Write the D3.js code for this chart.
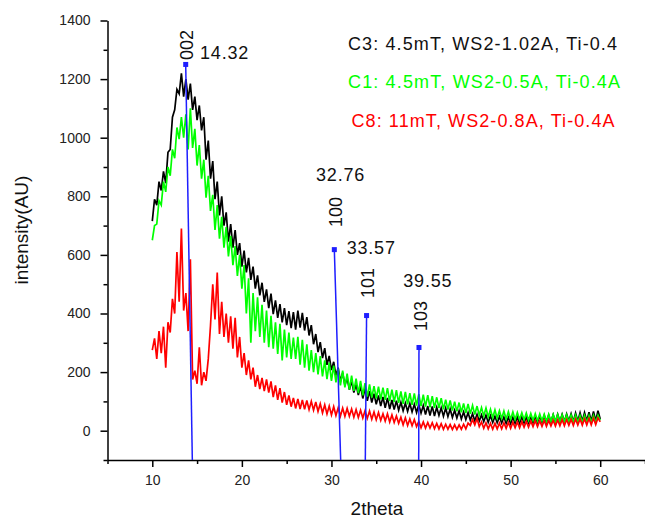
<!DOCTYPE html>
<html>
<head>
<meta charset="utf-8">
<script src="https://cdn.jsdelivr.net/npm/d3@7.9.0/dist/d3.min.js"></script>
<style>
  html, body { margin: 0; padding: 0; background: #fff; }
  svg { display: block; font-family: "Liberation Sans", Arial, sans-serif; }
</style>
</head>
<body>
<svg id="chart" width="645" height="519"></svg>
<script>
// 2theta grid: 10 .. 60 every 0.25 deg (201 points)
const twoTheta = d3.range(201).map(i => 10 + i / 4);

// C3: 4.5mT, WS2-1.02A, Ti-0.4  (black)
const c3Values = [
  715, 790, 770, 850, 820, 885, 845, 950,
  960, 1070, 1095, 1165, 1150, 1220, 1140, 1200,
  1130, 1185, 1095, 1140, 1060, 1110, 1025, 1070,
  925, 990, 860, 920, 790, 850, 735, 800,
  700, 745, 645, 705, 625, 685, 600, 640,
  560, 615, 540, 590, 515, 560, 485, 530,
  462, 505, 440, 482, 418, 468, 398, 445,
  385, 432, 370, 418, 360, 408, 350, 405,
  345, 410, 352, 402, 342, 388, 325, 360,
  295, 330, 268, 302, 248, 282, 225, 255,
  207, 235, 188, 215, 168, 198, 155, 180,
  140, 170, 130, 158, 122, 152, 110, 145,
  102, 135, 96, 126, 90, 120, 84, 115,
  78, 112, 74, 105, 72, 102, 70, 97,
  68, 94, 66, 93, 64, 90, 62, 89,
  60, 86, 55, 84, 52, 83, 50, 80,
  52, 78, 49, 77, 48, 74, 45, 70,
  43, 68, 40, 64, 38, 62, 36, 58,
  34, 56, 33, 54, 31, 53, 29, 51,
  28, 49, 27, 48, 26, 47, 25, 46,
  24, 46, 25, 47, 25, 47, 26, 46,
  26, 47, 27, 48, 28, 50, 29, 52,
  28, 53, 30, 55, 30, 56, 31, 56,
  31, 57, 32, 58, 31, 60, 32, 61,
  32, 62, 33, 63, 32, 66, 33, 68,
  40
];

// C1: 4.5mT, WS2-0.5A, Ti-0.4A  (green)
const c1Values = [
  650, 700, 705, 785, 770, 850, 815, 900,
  870, 960, 930, 1035, 995, 1070, 1000, 1080,
  960, 1100, 965, 1030, 905, 975, 860, 925,
  795, 870, 750, 805, 685, 770, 655, 730,
  625, 695, 595, 665, 565, 630, 528, 600,
  485, 565, 400, 520, 300, 470, 340, 455,
  320, 430, 300, 410, 285, 392, 280, 370,
  262, 365, 240, 345, 250, 335, 245, 318,
  245, 320, 225, 310, 215, 295, 205, 275,
  200, 265, 192, 255, 185, 240, 176, 232,
  170, 222, 165, 212, 155, 205, 148, 195,
  140, 188, 136, 178, 128, 170, 121, 162,
  116, 158, 113, 152, 110, 150, 107, 147,
  105, 145, 101, 140, 98, 138, 95, 134,
  92, 132, 90, 128, 88, 127, 86, 125,
  84, 123, 82, 121, 80, 118, 78, 114,
  77, 111, 73, 106, 72, 103, 69, 99,
  66, 96, 63, 93, 60, 91, 58, 86,
  55, 84, 53, 79, 50, 77, 47, 73,
  44, 71, 43, 68, 42, 67, 40, 65,
  39, 64, 38, 62, 38, 61, 37, 60,
  36, 59, 35, 58, 34, 57, 33, 56,
  32, 56, 31, 55, 31, 55, 30, 54,
  30, 54, 29, 53, 29, 53, 28, 52,
  28, 52, 28, 52, 28, 52, 28, 52,
  35
];

// C8: 11mT, WS2-0.8A, Ti-0.4A  (red)
const c8Values = [
  275, 315, 245, 340, 265, 355, 215, 370,
  335, 450, 400, 610, 440, 690, 410, 470,
  340, 585, 175, 205, 160, 285, 155, 200,
  170, 245, 360, 500, 380, 540, 330, 440,
  320, 400, 300, 390, 280, 385, 250, 320,
  215, 265, 190, 240, 175, 215, 150, 190,
  142, 180, 135, 175, 130, 168, 115, 155,
  105, 145, 96, 132, 88, 120, 82, 112,
  76, 108, 74, 105, 73, 103, 72, 100,
  70, 98, 66, 92, 61, 88, 57, 84,
  54, 82, 52, 78, 50, 77, 49, 76,
  49, 74, 46, 72, 45, 70, 43, 68,
  42, 67, 39, 64, 37, 62, 35, 58,
  33, 58, 30, 54, 28, 50, 25, 46,
  20, 44, 18, 40, 17, 38, 14, 32,
  10, 30, 9, 28, 9, 27, 7, 25,
  6, 24, 5, 22, 5, 21, 4, 20,
  4, 20, 5, 22, 6, 26, 18, 38,
  20, 42, 14, 30, 8, 27, 6, 25,
  5, 25, 6, 26, 6, 27, 8, 28,
  8, 29, 10, 30, 10, 31, 12, 32,
  12, 33, 14, 34, 14, 34, 15, 35,
  15, 35, 16, 36, 16, 37, 17, 38,
  17, 38, 18, 39, 18, 40, 19, 40,
  19, 41, 20, 42, 20, 43, 21, 44,
  30
];

const seriesNames = [
  'C3: 4.5mT, WS2-1.02A, Ti-0.4',
  'C1: 4.5mT, WS2-0.5A, Ti-0.4A',
  'C8: 11mT, WS2-0.8A, Ti-0.4A'
];
const seriesColors = ['#000000', '#00ff00', '#ff0000'];

// reference peaks (drop lines)
const peakHkl = ['002', '100', '101', '103'];
const peakAngle = ['14.32', '32.76', '33.57', '39.55'];
const peakTopX = [13.73, 30.32, 33.92, 39.77];
const peakBaseX = [14.47, 31.03, 33.78, 39.74];
const peakTopY = [1250, 618, 393, 284];
// where the hkl / angle texts sit, in data units
const hklAt = [[13.82, 1265], [30.45, 695], [34.02, 453], [39.94, 340]];
const angleAt = [[15.33, 1268], [28.28, 852], [31.70, 603], [38.02, 491]];

const xMajor = [10, 20, 30, 40, 50, 60];
const xMinor = [5, 15, 25, 35, 45, 55, 65];
const yMajor = [0, 200, 400, 600, 800, 1000, 1200, 1400];
const yMinor = [-100, 100, 300, 500, 700, 900, 1100, 1300];

const svg = d3.select('#chart');

const x = d3.scaleLinear().domain([5, 65]).range([107.5, 645]);
const y = d3.scaleLinear().domain([-100, 1400]).range([460, 20.5]);

// axes
const yAxisG = svg.append('g').attr('transform', `translate(${x(5)},0)`);
yAxisG.call(d3.axisLeft(y).tickValues(yMinor).tickSize(4).tickSizeOuter(0).tickFormat(''));
yAxisG.append('g')
  .call(d3.axisLeft(y).tickValues(yMajor).tickSize(7).tickSizeOuter(0).tickPadding(10).tickFormat(d3.format('d')))
  .call(g => g.select('.domain').remove());

const xAxisG = svg.append('g').attr('transform', `translate(0,${y(-100)})`);
xAxisG.call(d3.axisBottom(x).tickValues(xMinor).tickSize(4).tickSizeOuter(0).tickFormat(''));
xAxisG.append('g')
  .call(d3.axisBottom(x).tickValues(xMajor).tickSize(7).tickSizeOuter(0).tickPadding(8).tickFormat(d3.format('d')))
  .call(g => g.select('.domain').remove());

svg.selectAll('.domain, .tick line').attr('stroke', '#000').attr('stroke-width', 1.5);
svg.selectAll('.tick text')
  .attr('font-size', 14)
  .attr('fill', '#222')
  .attr('font-family', '"Liberation Sans", Arial, sans-serif');

// axis titles
svg.append('text')
  .attr('x', 377).attr('y', 515)
  .attr('text-anchor', 'middle')
  .attr('font-size', 19)
  .attr('fill', '#111')
  .text('2theta');

svg.append('text')
  .attr('transform', 'translate(28,230) rotate(-90)')
  .attr('text-anchor', 'middle')
  .attr('font-size', 19)
  .attr('fill', '#111')
  .text('intensity(AU)');

// spectra
const line = d3.line()
  .x((d, i) => x(twoTheta[i]))
  .y(d => y(d));

const allSeries = [c3Values, c1Values, c8Values];
svg.append('g').selectAll('path')
  .data(allSeries)
  .join('path')
    .attr('d', d => line(d))
    .attr('fill', 'none')
    .attr('stroke', (d, i) => seriesColors[i])
    .attr('stroke-width', 1.7)
    .attr('stroke-linejoin', 'miter');

// peak drop lines
const peaks = peakHkl.map((hkl, i) => ({
  hkl,
  angle: peakAngle[i],
  topX: peakTopX[i],
  baseX: peakBaseX[i],
  topY: peakTopY[i],
  hklAt: hklAt[i],
  angleAt: angleAt[i]
}));

const blue = '#1e1eff';
const peakG = svg.append('g');
peakG.selectAll('line')
  .data(peaks)
  .join('line')
    .attr('x1', d => x(d.topX))
    .attr('y1', d => y(d.topY))
    .attr('x2', d => x(d.baseX))
    .attr('y2', y(-100))
    .attr('stroke', blue)
    .attr('stroke-width', 1.5);

peakG.selectAll('rect')
  .data(peaks)
  .join('rect')
    .attr('x', d => x(d.topX) - 2.5)
    .attr('y', d => y(d.topY) - 2.5)
    .attr('width', 5)
    .attr('height', 5)
    .attr('fill', blue);

peakG.selectAll('text.hkl')
  .data(peaks)
  .join('text')
    .attr('class', 'hkl')
    .attr('transform', d => `translate(${x(d.hklAt[0])},${y(d.hklAt[1])}) rotate(-90)`)
    .attr('dy', '0.36em')
    .attr('font-size', 18)
    .attr('fill', '#111')
    .text(d => d.hkl);

peakG.selectAll('text.angle')
  .data(peaks)
  .join('text')
    .attr('class', 'angle')
    .attr('x', d => x(d.angleAt[0]))
    .attr('y', d => y(d.angleAt[1]))
    .attr('font-size', 18)
    .attr('letter-spacing', 0.8)
    .attr('fill', '#111')
    .text(d => d.angle);

// legend text (coloured labels, no swatches)
const legendY = [50, 88, 127];
const legendX = [348, 348, 351.5];
const legendW = [269, 272, 263];
svg.append('g').selectAll('text')
  .data(seriesNames)
  .join('text')
    .attr('x', (d, i) => legendX[i])
    .attr('y', (d, i) => legendY[i])
    .attr('font-size', 18)
    .attr('textLength', (d, i) => legendW[i])
    .attr('lengthAdjust', 'spacing')
    .attr('fill', (d, i) => seriesColors[i] === '#000000' ? '#111' : seriesColors[i])
    .text(d => d);
</script>
</body>
</html>
